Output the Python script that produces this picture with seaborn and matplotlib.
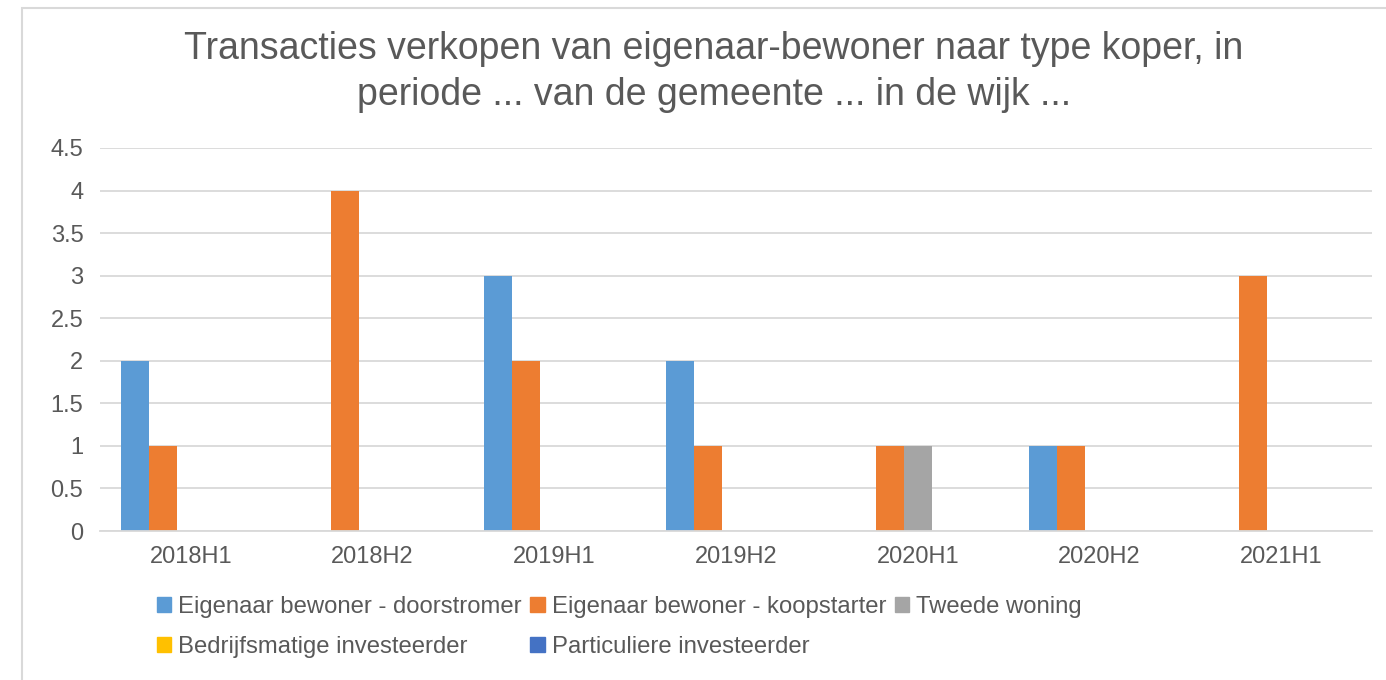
import pandas as pd
import matplotlib.pyplot as plt
import matplotlib.patches as mpatches
import seaborn as sns

# =========================================
# DATA
# =========================================

periods = ["2018H1", "2018H2", "2019H1", "2019H2", "2020H1", "2020H2", "2021H1"]

doorstromer = [2, 0, 3, 2, 0, 1, 0]
koopstarter = [1, 4, 2, 1, 1, 1, 3]
tweede_woning = [0, 0, 0, 0, 1, 0, 0]
bedrijfsmatig = [0, 0, 0, 0, 0, 0, 0]
particulier = [0, 0, 0, 0, 0, 0, 0]

series_names = [
    "Eigenaar bewoner - doorstromer",
    "Eigenaar bewoner - koopstarter",
    "Tweede woning",
    "Bedrijfsmatige investeerder",
    "Particuliere investeerder",
]
series_values = [doorstromer, koopstarter, tweede_woning, bedrijfsmatig, particulier]
colors = ["#5B9BD5", "#ED7D31", "#A5A5A5", "#FFC000", "#4472C4"]

title = ("Transacties verkopen van eigenaar-bewoner naar type koper, in\n"
         "periode ... van de gemeente ... in de wijk ...")

rows = []
for name, vals in zip(series_names, series_values):
    for p, v in zip(periods, vals):
        rows.append({"periode": p, "type": name, "aantal": v})
df = pd.DataFrame(rows)

# =========================================
# STYLE
# =========================================

sns.set_style("white")
plt.rcParams['font.family'] = ['Liberation Sans', 'DejaVu Sans']
text_color = "#595959"
grid_color = "#D9D9D9"

fig = plt.figure(figsize=(13.86, 6.8), dpi=100)
ax = fig.add_axes([100 / 1386, 1 - 531 / 680, 1272 / 1386, 383 / 680])

sns.barplot(
    data=df,
    x="periode",
    y="aantal",
    hue="type",
    order=periods,
    hue_order=series_names,
    palette=colors,
    width=0.77,
    saturation=1,
    errorbar=None,
    legend=False,
    linewidth=0,
    edgecolor="none",
    ax=ax,
)

ax.set_ylim(0, 4.5)
ax.set_yticks([0, 0.5, 1, 1.5, 2, 2.5, 3, 3.5, 4, 4.5])
ax.set_yticklabels(["0", "0.5", "1", "1.5", "2", "2.5", "3", "3.5", "4", "4.5"])
ax.yaxis.grid(True, color=grid_color, linewidth=1.3)
ax.set_axisbelow(True)
for s in ["top", "right", "left"]:
    ax.spines[s].set_visible(False)
ax.spines["bottom"].set_color(grid_color)
ax.spines["bottom"].set_linewidth(1.3)
ax.tick_params(axis="both", length=0, labelsize=17, colors=text_color)
ax.tick_params(axis="y", pad=12)
ax.tick_params(axis="x", pad=11)
ax.set_xlabel("")
ax.set_ylabel("")

# chart border
fig.patches.append(mpatches.Rectangle(
    (22 / 1386, -0.1), 1.2, 1 - 8 / 680 + 0.1,
    transform=fig.transFigure, fill=False, edgecolor="#D9D9D9", linewidth=1.5))

fig.text(714 / 1386, 1 - 72 / 680, title, ha="center", va="center",
         fontsize=27, color=text_color, linespacing=1.36)

# legend, row-major like Excel
handles = [mpatches.Patch(color=c, label=n) for c, n in zip(colors, series_names)]
order = [0, 3, 1, 4, 2]
leg = fig.legend(
    [handles[i] for i in order],
    [series_names[i] for i in order],
    loc="upper left",
    bbox_to_anchor=(157 / 1386, 1 - 596 / 680),
    ncol=3,
    frameon=False,
    fontsize=17.2,
    handlelength=0.6,
    handleheight=0.6,
    handletextpad=0.3,
    columnspacing=0.35,
    labelspacing=0.75,
    borderpad=0,
    borderaxespad=0,
)
for t in leg.get_texts():
    t.set_color(text_color)

plt.savefig("out.png", dpi=100)
